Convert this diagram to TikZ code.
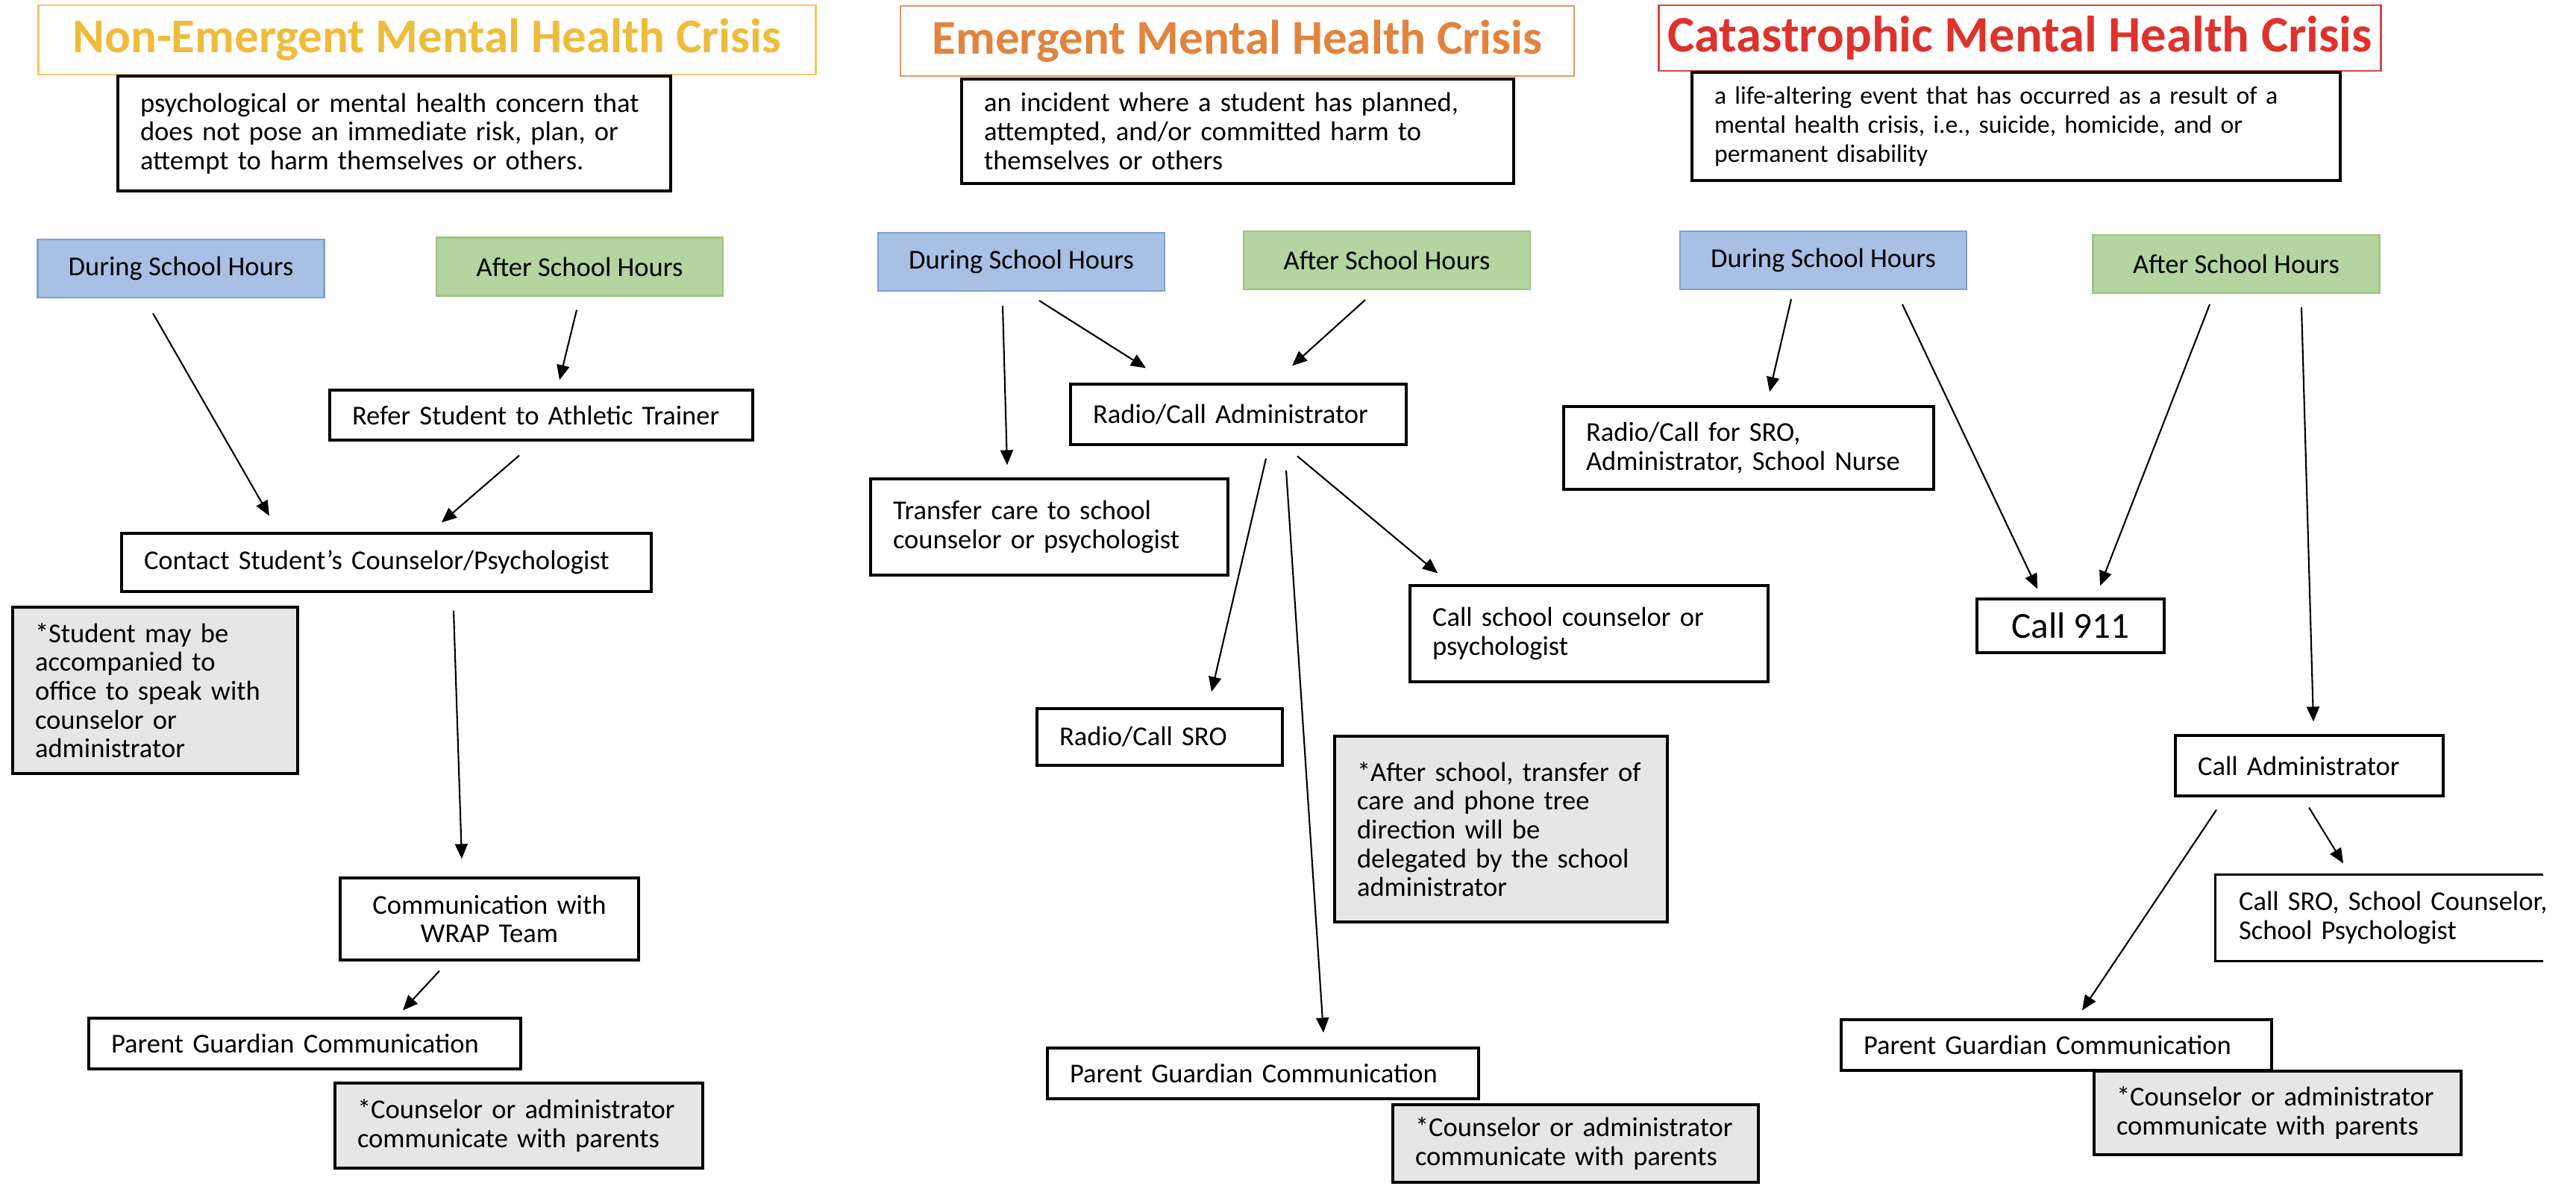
\documentclass[tikz,border=0pt]{standalone}
\usepackage{fontspec}
\setmainfont{Carlito}
\usepackage{tikz}
\usetikzlibrary{shapes,positioning,calc}
\usetikzlibrary{arrows.meta}
\definecolor{goldtxt}{RGB}{238,188,60}
\definecolor{goldline}{RGB}{240,200,100}
\definecolor{orangetxt}{RGB}{226,132,62}
\definecolor{orangeline}{RGB}{228,150,100}
\definecolor{redtxt}{RGB}{222,50,44}
\definecolor{redline}{RGB}{214,72,66}
\definecolor{bluefill}{RGB}{167,192,228}
\definecolor{blueline}{RGB}{130,160,210}
\definecolor{greenfill}{RGB}{180,212,160}
\definecolor{greenline}{RGB}{156,195,130}
\definecolor{notegray}{RGB}{231,230,230}
\tikzstyle{heading} = [rectangle, line width=0.8pt, text centered, font=\bfseries\fontsize{18.5}{20}\selectfont]
\tikzstyle{stepbox} = [rectangle, draw=black, line width=0.9pt, inner xsep=0.3cm, inner ysep=0.1cm, align=left, font=\fontsize{10.4}{11}\selectfont]
\tikzstyle{note} = [stepbox, fill=notegray]
\tikzstyle{during} = [rectangle, draw=blueline, fill=bluefill, line width=0.6pt, minimum width=3.84cm, minimum height=0.78cm, font=\fontsize{10.4}{11}\selectfont]
\tikzstyle{after} = [rectangle, draw=greenline, fill=greenfill, line width=0.6pt, minimum width=3.84cm, minimum height=0.78cm, font=\fontsize{10.4}{11}\selectfont]
\tikzstyle{arrow} = [line width=0.6pt, -{Triangle[length=0.2cm,width=0.17cm]}]
\begin{document}
\begin{tikzpicture}
\useasboundingbox (0,0) rectangle (34.53,-15.94);
% non-emergent
\node (t1) at (5.725,-0.535) [heading, draw=goldline, text=goldtxt, minimum width=10.42cm, minimum height=0.93cm] {Non-Emergent Mental Health Crisis};
\node (d1) at (5.285,-1.79) [stepbox, text width=6.81cm, minimum height=1.54cm] {psychological or mental health concern that\\does not pose an immediate risk, plan, or\\attempt to harm themselves or others.};
\node (dur1) at (2.425,-3.60) [during] {During School Hours};
\node (aft1) at (7.77,-3.575) [after] {After School Hours};
\node (refer) at (7.255,-5.565) [stepbox, text width=5.07cm, minimum height=0.67cm] {Refer Student to Athletic Trainer};
\node (contact) at (5.18,-7.54) [stepbox, text width=6.50cm, minimum height=0.78cm] {Contact Student’s Counselor/Psychologist};
\node (note1) at (2.08,-9.255) [note, text width=3.22cm, minimum height=2.23cm] {*Student may be\\accompanied to\\office to speak with\\counselor or\\administrator};
\node (wrap) at (6.56,-12.32) [stepbox, align=center, text width=3.40cm, minimum height=1.10cm] {Communication with\\WRAP Team};
\node (par1) at (4.085,-13.99) [stepbox, text width=5.19cm, minimum height=0.68cm] {Parent Guardian Communication};
\node (note1b) at (6.955,-15.09) [note, text width=4.33cm, minimum height=1.14cm] {*Counselor or administrator\\communicate with parents};
\draw[arrow] ([xshift=-0.375cm,yshift=-0.2cm]dur1.south) -- ([xshift=-1.57cm,yshift=0.22cm]contact.north);
\draw[arrow] ([xshift=-0.04cm,yshift=-0.18cm]aft1.south) -- ([xshift=0.245cm,yshift=0.12cm]refer.north);
\draw[arrow] ([xshift=-0.295cm,yshift=-0.19cm]refer.south) -- ([xshift=0.74cm,yshift=0.13cm]contact.north);
\draw[arrow] ([xshift=0.90cm,yshift=-0.24cm]contact.south) -- ([xshift=-0.37cm,yshift=0.24cm]wrap.north);
\draw[arrow] ([xshift=-0.67cm,yshift=-0.13cm]wrap.south) -- ([xshift=1.315cm,yshift=0.09cm]par1.north);
% emergent
\node (t2) at (16.585,-0.55) [heading, draw=orangeline, text=orangetxt, minimum width=9.03cm, minimum height=0.94cm] {Emergent Mental Health Crisis};
\node (d2) at (16.59,-1.76) [stepbox, text width=6.80cm, minimum height=1.40cm] {an incident where a student has planned,\\attempted, and/or committed harm to\\themselves or others};
\node (dur2) at (13.69,-3.51) [during] {During School Hours};
\node (aft2) at (18.59,-3.49) [after] {After School Hours};
\node (radm) at (16.60,-5.555) [stepbox, text width=3.90cm, minimum height=0.81cm] {Radio/Call Administrator};
\node (transfer) at (14.065,-7.065) [stepbox, text width=4.19cm, minimum height=1.29cm] {Transfer care to school\\counselor or psychologist};
\node (ccoun) at (21.30,-8.495) [stepbox, text width=4.20cm, minimum height=1.29cm] {Call school counselor or\\psychologist};
\node (sro) at (15.545,-9.88) [stepbox, text width=2.69cm, minimum height=0.76cm] {Radio/Call SRO};
\node (note2) at (20.12,-11.115) [note, text width=3.86cm, minimum height=2.49cm] {*After school, transfer of\\care and phone tree\\direction will be\\delegated by the school\\administrator};
\node (par2) at (16.93,-14.39) [stepbox, text width=5.18cm, minimum height=0.68cm] {Parent Guardian Communication};
\node (note2b) at (21.12,-15.33) [note, text width=4.30cm, minimum height=1.04cm] {*Counselor or administrator\\communicate with parents};
\draw[arrow] ([xshift=-0.25cm,yshift=-0.19cm]dur2.south) -- ([xshift=-0.565cm,yshift=0.17cm]transfer.north);
\draw[arrow] ([xshift=0.24cm,yshift=-0.12cm]dur2.south) -- ([xshift=-1.24cm,yshift=0.20cm]radm.north);
\draw[arrow] ([xshift=-0.29cm,yshift=-0.13cm]aft2.south) -- ([xshift=0.72cm,yshift=0.23cm]radm.north);
\draw[arrow] ([xshift=0.37cm,yshift=-0.17cm]radm.south) -- ([xshift=0.695cm,yshift=0.21cm]sro.north);
\draw[arrow] ([xshift=0.64cm,yshift=-0.33cm]radm.south) -- ([xshift=0.81cm,yshift=0.19cm]par2.north);
\draw[arrow] ([xshift=0.79cm,yshift=-0.14cm]radm.south) -- ([xshift=-2.03cm,yshift=0.15cm]ccoun.north);
% catastrophic
\node (t3) at (27.075,-0.51) [heading, draw=redline, text=redtxt, minimum width=9.63cm, minimum height=0.88cm, font=\bfseries\fontsize{19.5}{21}\selectfont] {Catastrophic Mental Health Crisis};
\node (d3) at (27.025,-1.695) [stepbox, text width=8.09cm, minimum height=1.45cm, font=\fontsize{9.6}{11}\selectfont] {a life-altering event that has occurred as a result of a\\mental health crisis, i.e., suicide, homicide, and or\\permanent disability};
\node (dur3) at (24.44,-3.49) [during] {During School Hours};
\node (aft3) at (29.975,-3.54) [after] {After School Hours};
\node (rsro) at (23.44,-6.005) [stepbox, text width=4.36cm, minimum height=1.11cm] {Radio/Call for SRO,\\Administrator, School Nurse};
\node (c911) at (27.755,-8.39) [stepbox, align=center, minimum width=2.51cm, minimum height=0.72cm, font=\fontsize{14}{16}\selectfont] {Call 911};
\node (cadm) at (30.955,-10.265) [stepbox, text width=2.99cm, minimum height=0.81cm] {Call Administrator};
\node (csro) at (32.11,-12.305) [stepbox, draw=none, text width=4.20cm, minimum height=1.13cm] {Call SRO, School Counselor,\\School Psychologist};
\draw[line width=0.9pt] ([xshift=4.40cm]csro.north west) -- (csro.north west) -- (csro.south west) -- ([xshift=4.40cm]csro.south west);
\node (par3) at (27.565,-14.01) [stepbox, text width=5.17cm, minimum height=0.68cm] {Parent Guardian Communication};
\node (note3b) at (30.53,-14.92) [note, text width=4.32cm, minimum height=1.12cm] {*Counselor or administrator\\communicate with parents};
\draw[arrow] ([xshift=-0.43cm,yshift=-0.12cm]dur3.south) -- ([xshift=0.28cm,yshift=0.18cm]rsro.north);
\draw[arrow] ([xshift=1.06cm,yshift=-0.19cm]dur3.south) -- ([xshift=-0.445cm,yshift=0.12cm]c911.north);
\draw[arrow] ([xshift=-0.355cm,yshift=-0.14cm]aft3.south) -- ([xshift=0.395cm,yshift=0.16cm]c911.north);
\draw[arrow] ([xshift=0.875cm,yshift=-0.18cm]aft3.south) -- ([xshift=0.055cm,yshift=0.17cm]cadm.north);
\draw[arrow] ([xshift=-1.245cm,yshift=-0.17cm]cadm.south) -- ([xshift=0.345cm,yshift=0.11cm]par3.north);
\draw[arrow] ([xshift=-0.005cm,yshift=-0.14cm]cadm.south) -- ([xshift=-0.70cm,yshift=0.15cm]csro.north);
\end{tikzpicture}
\end{document}
